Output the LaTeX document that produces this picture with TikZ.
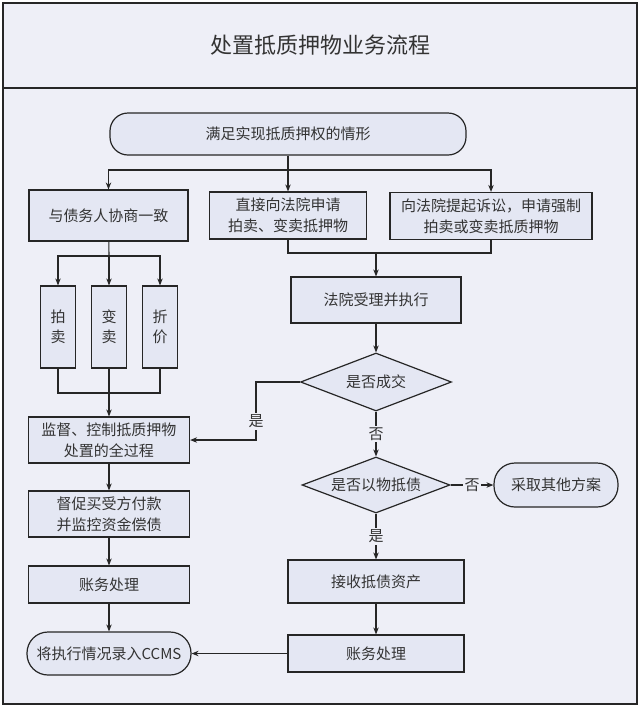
\documentclass[tikz,border=0pt]{standalone}
\usepackage{fontspec}
\newfontfamily\cjk{Noto Sans CJK SC}
\usetikzlibrary{shapes.geometric,arrows.meta}

\definecolor{bgcol}{HTML}{EEEFF7}
\definecolor{boxcol}{HTML}{E4E7F3}
\definecolor{linecol}{HTML}{262626}
\definecolor{txtcol}{HTML}{333333}

\tikzset{
  box/.style={draw=linecol,fill=boxcol,line width=1.2pt,align=center,inner sep=0pt,text=txtcol},
  term/.style={box,rounded corners=21pt},
  test/.style={box,diamond,aspect=2.6},
  lbl/.style={fill=bgcol,inner sep=1.5pt,text=txtcol}
}

\begin{document}
\begin{tikzpicture}[x=1pt,y=-1pt,>={Stealth[length=7pt,width=5.5pt]},
    font=\cjk\fontsize{15}{21}\selectfont,line width=1.1pt,draw=linecol]
    \useasboundingbox (0,0) rectangle (640,710);
    \fill[white] (0,0) rectangle (640,710);
    \draw[fill=bgcol,line width=1.4pt] (3,3) rectangle (637,704);
    \draw[line width=1.4pt] (3,88) -- (637,88);
    \node[text=txtcol,font=\cjk\fontsize{22}{26}\selectfont] (title) at (320,45) {处置抵质押物业务流程};

    \node[term,rounded corners=18pt,minimum width=356pt,minimum height=42pt] (start) at (288,134) {满足实现抵质押权的情形};
    \node[box,minimum width=159pt,minimum height=51pt] (agree) at (108.5,215.5) {与债务人协商一致};
    \node[box,minimum width=157pt,minimum height=47pt] (apply) at (288,215.5) {直接向法院申请\\拍卖、变卖抵押物};
    \node[box,minimum width=202pt,minimum height=47pt] (sue) at (491,216) {向法院提起诉讼，申请强制\\拍卖或变卖抵质押物};

    \node[box,minimum width=35pt,minimum height=82pt,font=\cjk\fontsize{15}{20}\selectfont] (auction) at (58,327) {拍\\卖};
    \node[box,minimum width=35pt,minimum height=82pt,font=\cjk\fontsize{15}{20}\selectfont] (sale) at (109,327) {变\\卖};
    \node[box,minimum width=35pt,minimum height=82pt,font=\cjk\fontsize{15}{20}\selectfont] (discount) at (160,327) {折\\价};

    \node[box,minimum width=161pt,minimum height=46pt] (monitor) at (109,440) {监督、控制抵质押物\\处置的全过程};
    \node[box,minimum width=161pt,minimum height=46pt] (pay) at (109,514) {督促买受方付款\\并监控资金偿债};
    \node[box,minimum width=161pt,minimum height=37pt] (acct_L) at (109,584.5) {账务处理};
    \node[term,minimum width=164pt,minimum height=43pt] (ccms) at (109,653.5) {将执行情况录入CCMS};

    \node[box,minimum width=170pt,minimum height=46pt] (court) at (376,300) {法院受理并执行};
    \node[test,minimum width=151pt,minimum height=58pt] (deal) at (376,382) {是否成交};
    \node[test,minimum width=148pt,minimum height=56pt] (offset) at (376,485) {是否以物抵债};
    \node[term,minimum width=124pt,minimum height=44pt] (other) at (556,485) {采取其他方案};
    \node[box,minimum width=176pt,minimum height=43pt] (receive) at (376,581.5) {接收抵债资产};
    \node[box,minimum width=176pt,minimum height=37pt] (acct_R) at (376,653.5) {账务处理};

    \coordinate (split) at (288,170);
    \coordinate (fork) at (109,256);
    \coordinate (join) at (109,393);
    \coordinate (merge) at (376,253);
    \coordinate (bend) at (256,382);

    \draw (start) -- (split);
    \draw[->] (split) -| (agree);
    \draw[->] (split) -- (apply);
    \draw[->] (split) -| (sue);

    \draw (agree) -- (fork);
    \draw[->] (fork) -| (auction);
    \draw[->] (fork) -- (sale);
    \draw[->] (fork) -| (discount);
    \draw (auction) |- (join) -| (discount);
    \draw[->] (sale) -- (monitor);

    \draw (apply) |- (merge) -| (sue);
    \draw[->] (merge) -- (court);
    \draw[->] (court) -- (deal);
    \draw[->] (deal.west) -- (bend) -- node[lbl,pos=0.68] {是} (bend |- monitor) -- (monitor);
    \draw[->] (deal) -- node[lbl] {否} (offset);
    \draw[->] (offset) -- node[lbl] {否} (other);
    \draw[->] (offset) -- node[lbl] {是} (receive);
    \draw[->] (receive) -- (acct_R);
    \draw[->] (acct_R) -- (ccms);

    \draw[->] (monitor) -- (pay);
    \draw[->] (pay) -- (acct_L);
    \draw[->] (acct_L) -- (ccms);
\end{tikzpicture}
\end{document}
